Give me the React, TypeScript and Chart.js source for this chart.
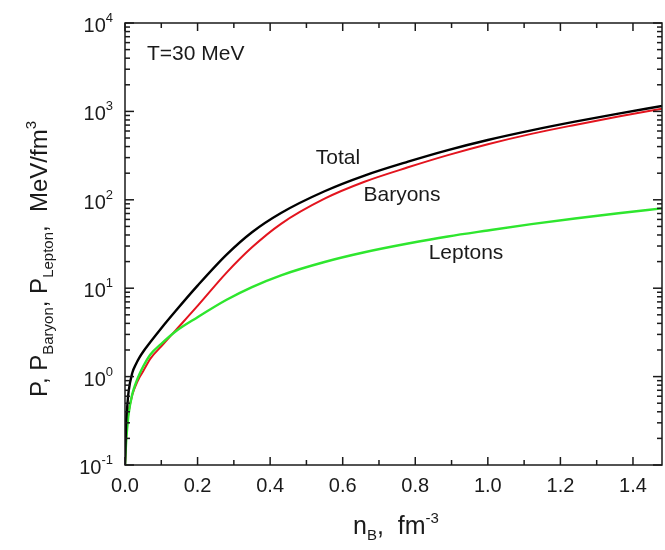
import React, { useEffect, useRef } from "react";
import { Chart, registerables } from "chart.js";

Chart.register(...registerables);

// Baryon density, fm^-3
const nB = [0, 0.003, 0.006, 0.01, 0.02, 0.03, 0.04, 0.05, 0.07, 0.1, 0.14, 0.2, 0.28, 0.35, 0.43, 0.55, 0.66, 0.78, 0.89, 1.0, 1.12, 1.24, 1.36, 1.48];
// Pressures, MeV/fm^3
const pTotal = [0.1, 0.3, 0.45, 0.68, 1.1, 1.38, 1.65, 1.91, 2.46, 3.53, 5.56, 10.7, 24, 43, 71, 125, 188, 270, 365, 475, 610, 765, 945, 1150];
const pBaryon = [0.1, 0.2, 0.3, 0.4, 0.62, 0.8, 0.98, 1.15, 1.6, 2.2, 3.35, 6.3, 15, 29, 53.5, 103, 160, 233, 320, 425, 557, 703, 875, 1070];
const pLepton = [0.1, 0.18, 0.26, 0.38, 0.63, 0.85, 1.07, 1.3, 1.78, 2.35, 3.26, 4.7, 7.4, 10.3, 14.0, 19.8, 25.5, 32, 38.5, 45, 53, 61.5, 70.5, 80];

const xMajorTicks = [0, 0.2, 0.4, 0.6, 0.8, 1.0, 1.2, 1.4];
const xMinorTicks = [0.1, 0.3, 0.5, 0.7, 0.9, 1.1, 1.3];
const yDecades = [-1, 0, 1, 2, 3, 4];
const X_MIN = 0;
const X_MAX = 1.48;
const Y_MIN = 0.1;
const Y_MAX = 10000;

const FONT = "Arial, 'Liberation Sans', Helvetica, sans-serif";
const INK = "#1a1a1a";

type Seg = { t: string; size: number; dy: number };

function drawSegs(ctx: CanvasRenderingContext2D, segs: Seg[], x: number, y: number) {
  let cx = x;
  for (const s of segs) {
    ctx.font = `${s.size}px ${FONT}`;
    ctx.fillText(s.t, cx, y + s.dy);
    cx += ctx.measureText(s.t).width;
  }
  return cx;
}

function segsWidth(ctx: CanvasRenderingContext2D, segs: Seg[]) {
  let w = 0;
  for (const s of segs) {
    ctx.font = `${s.size}px ${FONT}`;
    w += ctx.measureText(s.t).width;
  }
  return w;
}

const framePlugin = {
  id: "frameAndLabels",
  afterDraw(chart: any) {
    const { ctx, chartArea: a } = chart;
    const xs = chart.scales.x;
    const ys = chart.scales.y;
    ctx.save();
    ctx.strokeStyle = INK;
    ctx.fillStyle = INK;
    ctx.lineWidth = 1.5;
    ctx.strokeRect(a.left, a.top, a.right - a.left, a.bottom - a.top);

    const seg = (x1: number, y1: number, x2: number, y2: number) => {
      ctx.beginPath();
      ctx.moveTo(x1, y1);
      ctx.lineTo(x2, y2);
      ctx.stroke();
    };

    // x ticks on bottom and top edges, pointing inward
    for (const v of xMajorTicks) {
      const px = xs.getPixelForValue(v);
      seg(px, a.bottom, px, a.bottom - 8);
      seg(px, a.top, px, a.top + 8);
    }
    for (const v of xMinorTicks) {
      const px = xs.getPixelForValue(v);
      seg(px, a.bottom, px, a.bottom - 5);
      seg(px, a.top, px, a.top + 5);
    }

    // y ticks on left and right edges, pointing inward
    for (const d of yDecades) {
      const py = ys.getPixelForValue(Math.pow(10, d));
      seg(a.left, py, a.left + 9, py);
      seg(a.right, py, a.right - 9, py);
      if (d < yDecades[yDecades.length - 1]) {
        for (let k = 2; k <= 9; k++) {
          const pm = ys.getPixelForValue(k * Math.pow(10, d));
          seg(a.left, pm, a.left + 5, pm);
          seg(a.right, pm, a.right - 5, pm);
        }
      }
    }

    // x tick labels
    ctx.textBaseline = "alphabetic";
    ctx.textAlign = "center";
    ctx.font = `20px ${FONT}`;
    for (const v of xMajorTicks) {
      const px = xs.getPixelForValue(v);
      ctx.fillText(v.toFixed(1), px, a.bottom + 27);
    }

    // y tick labels as powers of ten
    ctx.textAlign = "left";
    for (const d of yDecades) {
      const py = ys.getPixelForValue(Math.pow(10, d));
      const segs: Seg[] = [
        { t: "10", size: 20, dy: 9 },
        { t: String(d), size: 13, dy: -1 },
      ];
      const w = segsWidth(ctx, segs);
      drawSegs(ctx, segs, a.left - 12 - w, py);
    }

    // x axis title
    drawSegs(
      ctx,
      [
        { t: "n", size: 25, dy: 0 },
        { t: "B", size: 15, dy: 6 },
        { t: ",  fm", size: 25, dy: 0 },
        { t: "-3", size: 15, dy: -11 },
      ],
      353,
      534
    );

    // y axis title, rotated
    ctx.save();
    ctx.translate(47, 397);
    ctx.rotate(-Math.PI / 2);
    drawSegs(
      ctx,
      [
        { t: "P, P", size: 24, dy: 0 },
        { t: "Baryon", size: 15, dy: 6 },
        { t: ", P", size: 24, dy: 0 },
        { t: "Lepton", size: 15, dy: 6 },
        { t: ",  MeV/fm", size: 24, dy: 0 },
        { t: "3", size: 15, dy: -11 },
      ],
      0,
      0
    );
    ctx.restore();

    // in-plot annotations
    ctx.font = `21px ${FONT}`;
    ctx.textBaseline = "middle";
    ctx.textAlign = "left";
    ctx.fillText("T=30 MeV", 147, 54);
    ctx.textAlign = "center";
    ctx.fillText("Total", 338, 158);
    ctx.fillText("Baryons", 402, 195);
    ctx.fillText("Leptons", 466, 253);

    ctx.restore();
  },
};

function toPoints(ys: number[]) {
  return nB.map((x, i) => ({ x, y: ys[i] }));
}

export default function App() {
  const ref = useRef<HTMLCanvasElement | null>(null);

  useEffect(() => {
    if (!ref.current) return;
    const chart = new Chart(ref.current, {
      type: "line",
      data: {
        datasets: [
          {
            label: "Total",
            data: toPoints(pTotal),
            borderColor: "#000000",
            borderWidth: 2.4,
            pointRadius: 0,
            cubicInterpolationMode: "monotone",
          },
          {
            label: "Leptons",
            data: toPoints(pLepton),
            borderColor: "#2ee62e",
            borderWidth: 2.4,
            pointRadius: 0,
            cubicInterpolationMode: "monotone",
          },
          {
            label: "Baryons",
            data: toPoints(pBaryon),
            borderColor: "#e3141e",
            borderWidth: 2,
            pointRadius: 0,
            cubicInterpolationMode: "monotone",
          },
        ],
      },
      options: {
        animation: false,
        responsive: false,
        devicePixelRatio: 1,
        layout: { padding: { left: 125, top: 23, right: 3, bottom: 85 } },
        plugins: {
          legend: { display: false },
          tooltip: { enabled: false },
        },
        scales: {
          x: { type: "linear", min: X_MIN, max: X_MAX, display: false },
          y: { type: "logarithmic", min: Y_MIN, max: Y_MAX, display: false },
        },
      },
      plugins: [framePlugin],
    });
    return () => chart.destroy();
  }, []);

  return (
    <div style={{ position: "absolute", left: 0, top: 0, width: 665, height: 550, background: "#ffffff" }}>
      <canvas ref={ref} width={665} height={550} />
    </div>
  );
}
